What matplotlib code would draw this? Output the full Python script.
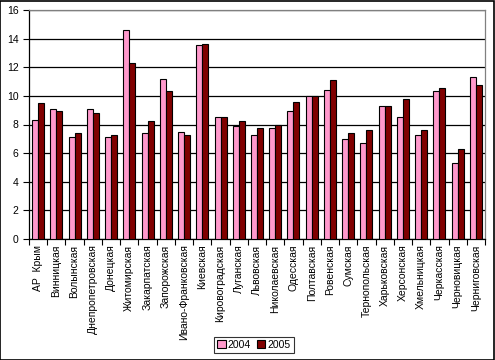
import matplotlib.pyplot as plt
import numpy as np
from matplotlib.patches import Rectangle

oblasti = ['АР  Крым', 'Винницкая', 'Волынская', 'Днепропетровская', 'Донецкая',
           'Житомирская', 'Закарпатская', 'Запорожская', 'Ивано-Франковская',
           'Киевская', 'Кировоградская', 'Луганская', 'Львовская', 'Николаевская',
           'Одесская', 'Полтавская', 'Ровенская', 'Сумская', 'Тернопольская',
           'Харьковская', 'Херсонская', 'Хмельницкая', 'Черкасская',
           'Черновицкая', 'Черниговская']

v2004 = [8.3, 9.07, 7.14, 9.07, 7.14, 14.6, 7.39, 11.17, 7.51, 13.55, 8.51, 7.88,
         7.25, 7.74, 8.93, 9.96, 10.4, 6.97, 6.69, 9.28, 8.51, 7.25, 10.33, 5.3, 11.31]
v2005 = [9.5, 8.93, 7.39, 8.8, 7.25, 12.3, 8.23, 10.33, 7.25, 13.62, 8.51, 8.23,
         7.74, 8.0, 9.56, 9.96, 11.1, 7.39, 7.6, 9.28, 9.77, 7.6, 10.54, 6.27, 10.75]

plt.rcParams['font.family'] = ['Liberation Sans', 'DejaVu Sans']

fig = plt.figure(figsize=(4.95, 3.6), dpi=100)
ax = fig.add_axes([29/495, 121/360, 456/495, 229/360])

n = len(oblasti)
x = np.arange(n)
w = 0.33
ax.bar(x - w/2, v2004, w, color='#FF99CC', edgecolor='black', linewidth=0.8, label='2004', zorder=3)
ax.bar(x + w/2, v2005, w, color='#800000', edgecolor='black', linewidth=0.8, label='2005', zorder=3)

ax.set_xlim(-0.5, n - 0.5)
ax.set_ylim(0, 16)
ax.set_yticks(range(0, 17, 2))
ax.yaxis.grid(True, color='black', linewidth=0.9, zorder=0)
ax.set_axisbelow(True)

ax.set_xticks(x)
ax.set_xticklabels(oblasti, rotation=90, fontsize=7.5)
ax.set_xticks(np.arange(-0.5, n, 1), minor=True)
ax.tick_params(axis='x', which='major', length=0, pad=4)
ax.tick_params(axis='x', which='minor', length=4, width=0.8, direction='out')
ax.tick_params(axis='y', labelsize=7.5, length=4, width=0.8, direction='out')

for s in ['top', 'right']:
    ax.spines[s].set_color('#808080')
for s in ['left', 'bottom']:
    ax.spines[s].set_color('black')
for s in ax.spines.values():
    s.set_linewidth(0.9)

leg = fig.legend(loc='center', bbox_to_anchor=(254/495, 1 - 345/360), ncol=2,
                 fontsize=7.5, frameon=True, fancybox=False, edgecolor='black',
                 handlelength=0.8, handleheight=0.8, handletextpad=0.2,
                 columnspacing=0.6, borderpad=0.3, borderaxespad=0)
leg.get_frame().set_linewidth(0.8)

fig.patches.append(Rectangle((0.001, 0.001), 0.997, 0.997, transform=fig.transFigure,
                             fill=False, edgecolor='black', linewidth=1.2))

fig.savefig('out.png', dpi=100)
